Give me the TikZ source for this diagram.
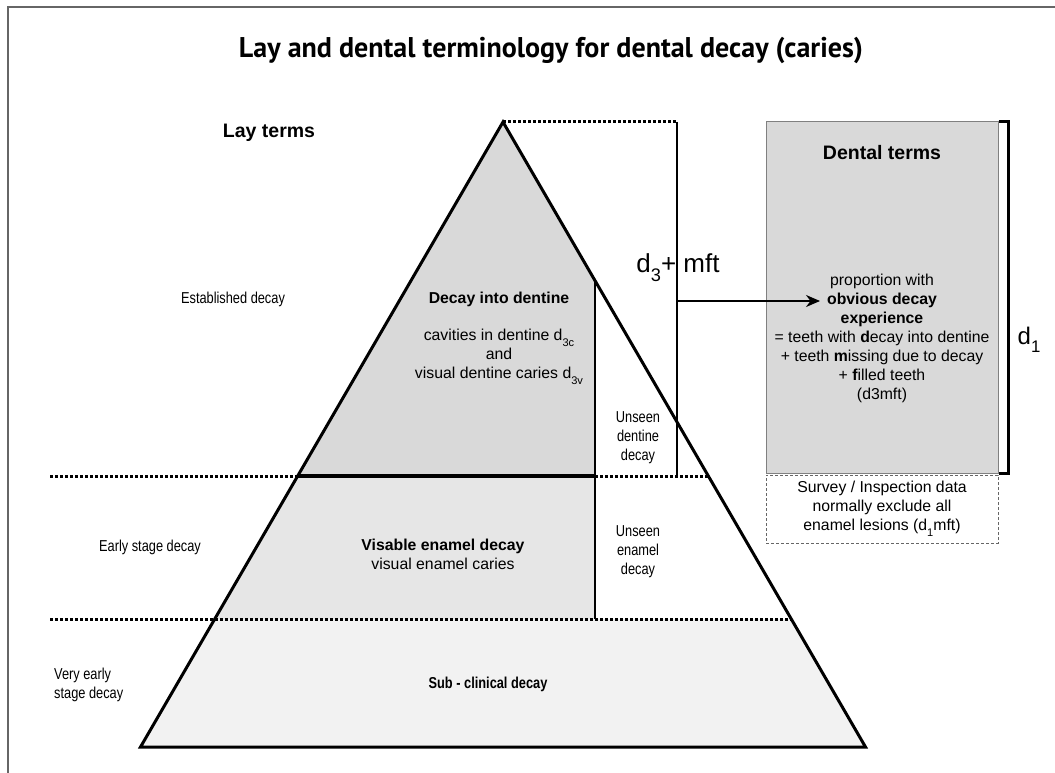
\documentclass[tikz,border=0pt]{standalone}
\usepackage{fontspec}
\setmainfont{Liberation Sans}
\newfontfamily\titlefont{PT Sans}
\usetikzlibrary{arrows.meta}
\newcommand{\nw}[1]{\scalebox{0.81}[1]{#1}}
\newcommand{\lowsub}[1]{\raisebox{-0.35em}{\scalebox{0.7}{#1}}}
\definecolor{topfill}{HTML}{D9D9D9}
\definecolor{midfill}{HTML}{E6E6E6}
\definecolor{lowfill}{HTML}{F2F2F2}
\definecolor{framegray}{HTML}{666666}
\tikzset{
  body/.style={inner sep=0pt, align=center, font=\fontsize{15.8}{19}\selectfont},
  headtxt/.style={inner sep=0pt, align=center, font=\fontsize{19.5}{23}\selectfont\bfseries},
  bigtxt/.style={inner sep=0pt, font=\fontsize{26}{30}\selectfont},
  outline/.style={line width=3pt, line join=miter},
  levelline/.style={line width=3pt, dash pattern=on 3pt off 2pt},
  divider/.style={line width=2.2pt},
}
\begin{document}
\begin{tikzpicture}[x=1pt,y=-1pt]
\useasboundingbox (0,0) rectangle (1055,773);
% frame
\draw[framegray, line width=1.5pt] (8,773) -- (8,7) -- (1055,7);

% pyramid key points
\coordinate (apex) at (503,122);
\coordinate (bl) at (140.5,747);
\coordinate (br) at (865.5,747);
\coordinate (l1) at (297.7,476);
\coordinate (r1) at (708.3,476);
\coordinate (l2) at (214.7,619);
\coordinate (r2) at (791.3,619);
\coordinate (vtop) at (595,280.6);
\coordinate (vmid) at (595,476);
\coordinate (vbot) at (595,619);
\coordinate (d1s) at (50,476);
\coordinate (d2s) at (50,619);
\coordinate (bt) at (677,122);
\coordinate (bb) at (677,476);

% fills
\fill[topfill] (apex) -- (vtop) -- (vmid) -- (l1) -- cycle;
\fill[midfill] (l1) -- (vmid) -- (vbot) -- (l2) -- cycle;
\fill[lowfill] (l2) -- (r2) -- (br) -- (bl) -- cycle;

% dotted level lines
\draw[levelline] (d1s) -- (r1);
\draw[levelline] (d2s) -- (r2);
\draw[levelline] (apex) -- (bt);

% dividers
\draw[line width=4pt] (l1) -- (vmid);
\draw[divider] (vtop) -- (vbot);
\draw[divider] (bt) -- (bb);

% outline
\draw[outline] (apex) -- (bl) -- (br) -- cycle;

% title
\node[inner sep=0pt, anchor=base] (title) at (551,58)
  {\resizebox{624pt}{\height}{\titlefont\fontsize{28.5}{32}\selectfont\bfseries Lay and dental terminology for dental decay (caries)}};

% lay terms
\node[headtxt] (lay) at (269,133) {Lay terms};
\node[body] (est) at (233,299) {\nw{Established decay}};
\node[body] (early) at (150,547) {\nw{Early stage decay}};
\node[body, align=left, anchor=west] (vearly) at (54,685) {\nw{Very early}\\\nw{stage decay}};

% pyramid texts
\node[body, font=\fontsize{15.8}{19}\selectfont\bfseries] (dentine) at (499,299) {Decay into dentine};
\node[body] (cav) at (499,357) {cavities in dentine d\lowsub{3c}\\and\\visual dentine caries d\lowsub{3v}};
\node[body] (unsd) at (638,438) {\nw{Unseen}\\\nw{dentine}\\\nw{decay}};
\node[body] (enamel) at (443,554) {\textbf{Visable enamel decay}\\visual enamel caries};
\node[body] (unse) at (638,552) {\nw{Unseen}\\\nw{enamel}\\\nw{decay}};
\node[body] (sub) at (488,684) {\nw{\textbf{Sub - clinical decay}}};

% d3 + mft label
\node[bigtxt] (d3) at (678,268) {d\lowsub{3}+ mft};

% dental terms box
\node[draw=gray, line width=1pt, fill=topfill, minimum width=232pt, minimum height=351pt, inner sep=0pt] (dbox) at (882,297.5) {};
\draw[line width=2.2pt] (dbox.north east) -- ++(10,0) |- (dbox.south east);
\node[headtxt] (dterms) at (882,153) {Dental terms};
\node[body] (prop) at (882,338) {proportion with\\\textbf{obvious decay}\\\textbf{experience}\\= teeth with \textbf{d}ecay into dentine\\+ teeth \textbf{m}issing due to decay\\+ \textbf{f}illed teeth\\(d3mft)};
\node[inner sep=0pt, font=\fontsize{24}{28}\selectfont] (d1) at (1029,340) {d\lowsub{1}};

% survey box
\node[draw=framegray, line width=1pt, dash pattern=on 3pt off 2pt, minimum width=232pt, minimum height=68pt, inner sep=0pt, body] (sbox) at (882,509) {Survey / Inspection data\\normally exclude all\\enamel lesions (d\lowsub{1}mft)};

% arrow
\coordinate (as) at (677,301);
\coordinate (ae) at (820,301);
\draw[line width=2pt, -{Stealth[length=14pt, width=12pt]}] (as) -- (ae);
\end{tikzpicture}
\end{document}
